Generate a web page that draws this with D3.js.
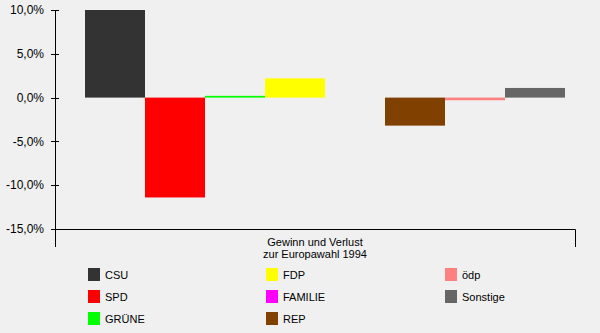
<!DOCTYPE html>
<html>
<head>
<meta charset="utf-8">
<script src="https://cdn.jsdelivr.net/npm/d3@7"></script>
<style>
  body { margin: 0; background: #f0f0f0; }
  svg { display: block; font-family: Arial, "Liberation Sans", sans-serif; }
</style>
</head>
<body>
<svg></svg>
<script>
// chart data
const parties = ['CSU', 'SPD', 'GRÜNE', 'FDP', 'FAMILIE', 'REP', 'ödp', 'Sonstige'];
const changes = [10.0, -11.4, 0.2, 2.2, 0.0, -3.2, -0.3, 1.1];
const colors = ['#333333', '#ff0000', '#00ff00', '#ffff00', '#ff00ff', '#804000', '#ff8080', '#666666'];
const yTicks = [10, 5, 0, -5, -10, -15];
const categoryLabel = ['Gewinn und Verlust', 'zur Europawahl 1994'];

const width = 600;
const height = 333;

const svg = d3.select('svg')
    .attr('width', width).attr('height', height);

const x = d3.scaleBand()
    .domain(parties)
    .range([85, 565])
    .padding(0);

const y = d3.scaleLinear()
    .domain([-15, 10])
    .range([229, 10]);

const fmt = d => d3.format('.1f')(d).replace('.', ',').replace('−', '-') + '%';

// bars
svg.append('g')
    .selectAll('rect')
    .data(parties)
    .enter().append('rect')
    .attr('x', d => x(d))
    .attr('width', x.bandwidth())
    .attr('y', (d, i) => y(Math.max(0, changes[i])))
    .attr('height', (d, i) => Math.abs(y(changes[i]) - y(0)))
    .attr('fill', (d, i) => colors[i]);

// y axis
const yAxis = svg.append('g');
yAxis.append('line')
    .attr('x1', 55.5).attr('x2', 55.5)
    .attr('y1', y(10)).attr('y2', 247)
    .attr('stroke', '#000');
yAxis.selectAll('.tick')
    .data(yTicks)
    .enter().append('line')
    .attr('x1', 51).attr('x2', 59)
    .attr('y1', d => Math.round(y(d)) + 0.5)
    .attr('y2', d => Math.round(y(d)) + 0.5)
    .attr('stroke', '#000');
yAxis.selectAll('text')
    .data(yTicks)
    .enter().append('text')
    .attr('x', 44)
    .attr('y', d => y(d))
    .attr('dy', '0.35em')
    .attr('text-anchor', 'end')
    .attr('font-size', 12)
    .text(fmt);

// x axis (category frame)
const xLine = Math.round(y(-15)) + 0.5;
svg.append('path')
    .attr('d', `M55,${xLine}H575.5V247`)
    .attr('fill', 'none')
    .attr('stroke', '#000');

svg.append('text')
    .attr('x', 315)
    .attr('text-anchor', 'middle')
    .attr('font-size', 11)
    .selectAll('tspan')
    .data(categoryLabel)
    .enter().append('tspan')
    .attr('x', 315)
    .attr('y', (d, i) => 246 + i * 12)
    .text(d => d);

// legend, three columns filled top to bottom
const colX = [88, 266, 445];
const legend = svg.append('g')
    .selectAll('g')
    .data(parties)
    .enter().append('g')
    .attr('transform', (d, i) => `translate(${colX[Math.floor(i / 3)]},${268 + (i % 3) * 22})`);

legend.append('rect')
    .attr('width', 12).attr('height', 13)
    .attr('fill', (d, i) => colors[i]);

legend.append('text')
    .attr('x', 17)
    .attr('y', 7)
    .attr('dy', '0.35em')
    .attr('font-size', 11)
    .text(d => d);
</script>
</body>
</html>
